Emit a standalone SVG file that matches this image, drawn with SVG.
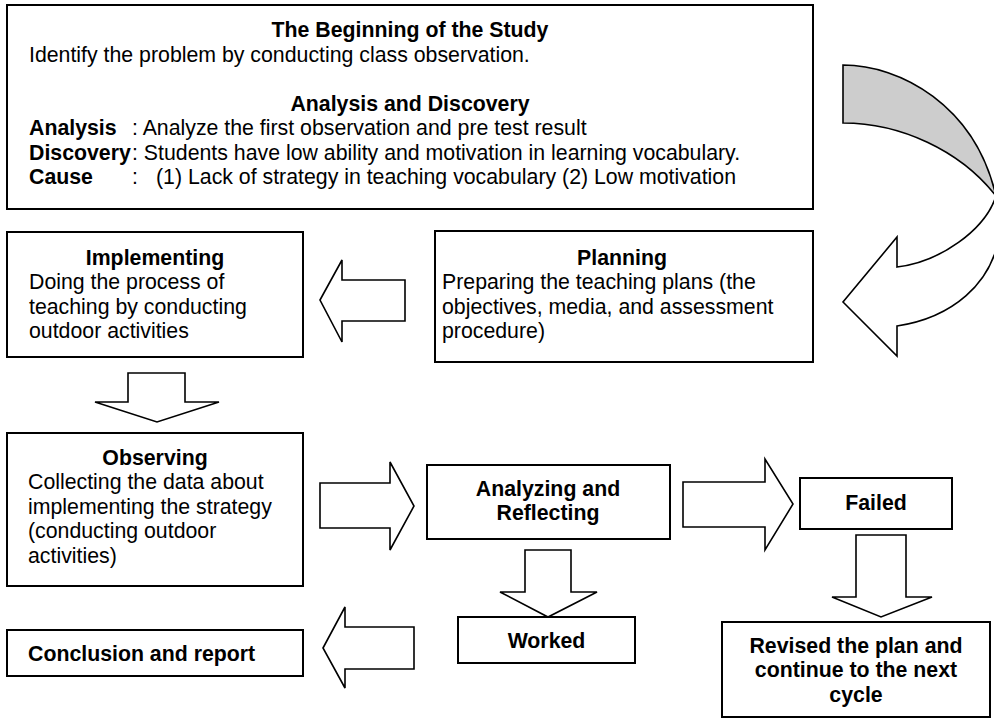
<svg xmlns="http://www.w3.org/2000/svg" width="994" height="720" viewBox="0 0 994 720">
<style>
text{font-family:"Liberation Sans",Arial,sans-serif;font-size:21.3px;fill:#000}
.b{font-weight:bold}
.c{text-anchor:middle}
.box{fill:#fff;stroke:#000;stroke-width:2}
.arr{fill:#fff;stroke:#000;stroke-width:1.6;stroke-linejoin:miter}
.back{fill:#cdcdcd;stroke:#000;stroke-width:1.6}
</style>
<rect width="994" height="720" fill="#fff"/>
<g id="connectors">
<polygon class="arr" points="320,300 342,260 342,280 405,280 405,321 342,321 342,342"/>
<polygon class="arr" points="128,373 185,373 185,402 219,402 157,422 95,402 128,402"/>
<polygon class="arr" points="320,483 390,483 390,462 414,506 390,550 390,528 320,528"/>
<polygon class="arr" points="683,482 765,482 765,459 793,504 765,550 765,527 683,527"/>
<polygon class="arr" points="525,550 571,550 571,592 597,592 548,617 500,592 525,592"/>
<polygon class="arr" points="323,648 345,607 345,627 414,627 414,669 345,669 345,688"/>
<polygon class="arr" points="856,535 906,535 906,597 932,597 881,617 832,597 856,597"/>
<g id="curved-arrow">
<path class="back" d="M843,65 C900,65 975,105 996,196 C960,150 900,123 843,123 Z"/>
<path class="arr" d="M996,196 C985,230 940,262 897,267 L897,237 L843,302 L897,356 L897,326 C950,318 994,285 1000,230 L1002,196 Z"/>
</g>
</g>
<g id="beginning">
<rect class="box" x="7" y="5" width="806" height="204"/>
<text class="b c" x="410" y="37">The Beginning of the Study</text>
<text x="29" y="61.5">Identify the problem by conducting class observation.</text>
<text class="b c" x="410" y="110.5">Analysis and Discovery</text>
<text class="b" x="29" y="135">Analysis</text>
<text x="132" y="135">: Analyze the first observation and pre test result</text>
<text class="b" x="29" y="159.5">Discovery</text>
<text x="132" y="159.5">: Students have low ability and motivation in learning vocabulary.</text>
<text class="b" x="29" y="184">Cause</text>
<text x="132" y="184">:</text>
<text x="156" y="184">(1) Lack of strategy in teaching vocabulary (2) Low motivation</text>
</g>
<g id="implementing">
<rect class="box" x="7" y="232" width="296" height="125"/>
<text class="b c" x="155" y="264.7">Implementing</text>
<text x="29" y="289.2">Doing the process of</text>
<text x="29" y="313.7">teaching by conducting</text>
<text x="29" y="338.2">outdoor activities</text>
</g>
<g id="planning">
<rect class="box" x="435" y="231" width="378" height="131"/>
<text class="b c" x="622" y="264.7">Planning</text>
<text x="442" y="289.2">Preparing the teaching plans (the</text>
<text x="442" y="313.7">objectives, media, and assessment</text>
<text x="442" y="338.2">procedure)</text>
</g>
<g id="observing">
<rect class="box" x="7" y="433" width="296" height="153"/>
<text class="b c" x="155" y="464.7">Observing</text>
<text x="28" y="489.2">Collecting the data about</text>
<text x="28" y="513.7">implementing the strategy</text>
<text x="28" y="538.2">(conducting outdoor</text>
<text x="28" y="562.7">activities)</text>
</g>
<g id="analyzing">
<rect class="box" x="427" y="465" width="243" height="74"/>
<text class="b c" x="548" y="495.7">Analyzing and</text>
<text class="b c" x="548" y="520.2">Reflecting</text>
</g>
<g id="failed">
<rect class="box" x="800" y="478" width="152" height="51"/>
<text class="b c" x="876" y="509.7">Failed</text>
</g>
<g id="worked">
<rect class="box" x="458" y="617" width="177" height="46"/>
<text class="b c" x="546.5" y="647.7">Worked</text>
</g>
<g id="conclusion">
<rect class="box" x="7" y="630" width="296" height="46"/>
<text class="b" x="28" y="660.7">Conclusion and report</text>
</g>
<g id="revised">
<rect class="box" x="722" y="622" width="268" height="95"/>
<text class="b c" x="856" y="652.7">Revised the plan and</text>
<text class="b c" x="856" y="677.2">continue to the next</text>
<text class="b c" x="856" y="701.7">cycle</text>
</g>
</svg>
